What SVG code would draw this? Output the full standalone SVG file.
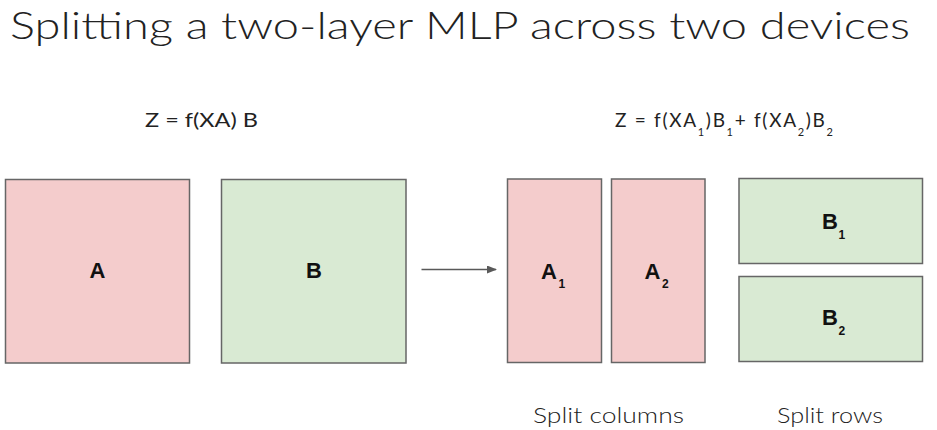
<svg xmlns="http://www.w3.org/2000/svg" width="937" height="430" viewBox="0 0 937 430">
<defs>
<marker id="ah" markerWidth="10" markerHeight="8" refX="9" refY="4" orient="auto" markerUnits="userSpaceOnUse">
<path d="M0,0 L10,4 L0,8 z" fill="#595959"/>
</marker>
<style>
.pink{fill:#f4cccc;stroke:#666;stroke-width:1.5}
.green{fill:#d9ead3;stroke:#666;stroke-width:1.5}
.lbl{font-family:"Liberation Sans",Arial,sans-serif;font-weight:bold;font-size:22px;fill:#111;text-anchor:middle}
.sub{font-family:"Liberation Sans",Arial,sans-serif;font-weight:bold;font-size:12px;fill:#111}
.light{font-family:Lato,"Open Sans",sans-serif;font-weight:300;fill:#222}
.eq{font-family:Lato,"Open Sans",sans-serif;font-weight:400;fill:#222;font-size:19px}
.eqs{font-family:Lato,"Open Sans",sans-serif;font-weight:400;fill:#222;font-size:11px}
</style>
</defs>
<rect width="937" height="430" fill="#fff"/>
<text class="light" x="10" y="38.5" font-size="38" textLength="900" lengthAdjust="spacingAndGlyphs">Splitting a two-layer MLP across two devices</text>
<text class="eq" x="145" y="127" textLength="113" lengthAdjust="spacingAndGlyphs">Z = f(XA) B</text>
<text class="eq" x="615" y="127" textLength="218" lengthAdjust="spacing">Z = f(XA<tspan class="eqs" dy="9">1</tspan><tspan dy="-9">)B</tspan><tspan class="eqs" dy="9">1</tspan><tspan dy="-9">+ f(XA</tspan><tspan class="eqs" dy="9">2</tspan><tspan dy="-9">)B</tspan><tspan class="eqs" dy="9">2</tspan></text>
<g id="A"><rect class="pink" x="5.5" y="179.5" width="184" height="183.5"/><text class="lbl" x="97.5" y="278">A</text></g>
<g id="B"><rect class="green" x="221.5" y="179.5" width="184.5" height="183.5"/><text class="lbl" x="314" y="278">B</text></g>
<g id="A1"><rect class="pink" x="507.5" y="179" width="94" height="183.5"/><text class="lbl" x="549" y="279">A</text><text class="sub" x="558.5" y="288">1</text></g>
<g id="A2"><rect class="pink" x="611.5" y="179" width="93.5" height="183.5"/><text class="lbl" x="652.5" y="279">A</text><text class="sub" x="662" y="288">2</text></g>
<g id="B1"><rect class="green" x="739" y="178.5" width="183.5" height="85"/><text class="lbl" x="830" y="229">B</text><text class="sub" x="838.5" y="239">1</text></g>
<g id="B2"><rect class="green" x="739" y="276.5" width="183.5" height="85"/><text class="lbl" x="830" y="325">B</text><text class="sub" x="838.5" y="335">2</text></g>
<g id="connectors"><line x1="421.5" y1="269.5" x2="496" y2="269.5" stroke="#595959" stroke-width="1.5" marker-end="url(#ah)"/></g>
<text class="light" x="533" y="423" font-size="22" font-weight="400" textLength="151" lengthAdjust="spacingAndGlyphs">Split columns</text>
<text class="light" x="777" y="423" font-size="22" font-weight="400" textLength="106" lengthAdjust="spacingAndGlyphs">Split rows</text>
</svg>
